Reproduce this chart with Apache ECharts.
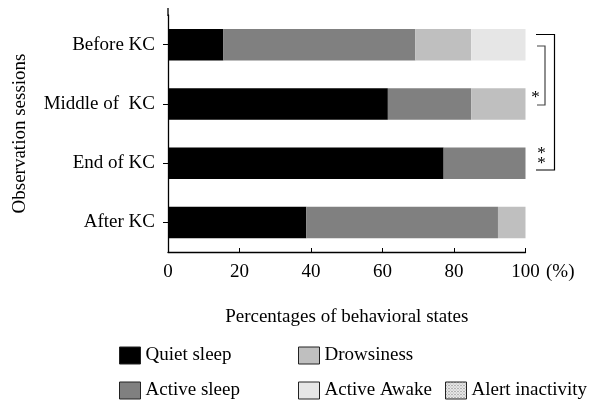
<!DOCTYPE html>
<html>
<head>
<meta charset="utf-8">
<script src="https://cdn.jsdelivr.net/npm/echarts@6/dist/echarts.min.js"></script>
<style>html,body{margin:0;padding:0;background:#fff}#c{width:600px;height:413px}</style>
</head>
<body>
<div id="c"></div>
<script>
const categories = ['Before KC', 'Middle of  KC', 'End of KC', 'After KC'];
const quietSleep = [15.5, 61.5, 77.1, 38.7];
const activeSleep = [53.7, 23.3, 22.9, 53.6];
const drowsiness = [15.6, 15.2, 0, 7.7];
const activeAwake = [15.2, 0, 0, 0];
const alertInactivity = [0, 0, 0, 0];
const xTicks = [0, 20, 40, 60, 80, 100];

const FONT = '"Liberation Serif", "DejaVu Serif", serif';
const FS = 19;

// dotted pattern for "Alert inactivity"
const pc = document.createElement('canvas');
pc.width = 3; pc.height = 3;
const pctx = pc.getContext('2d');
pctx.fillStyle = '#f0f0f0'; pctx.fillRect(0, 0, 3, 3);
pctx.fillStyle = '#777'; pctx.fillRect(0, 0, 1, 1); pctx.fillRect(1.5, 1.5, 1, 1);

const chart = echarts.init(document.getElementById('c'), null, {renderer: 'canvas'});

function mkSeries(name, data, color) {
  return {
    name, type: 'bar', stack: 'all', data, barWidth: 31.5,
    itemStyle: {color: color, borderWidth: 0},
    emphasis: {disabled: true}, silent: true
  };
}
function mkLegend(name, left, top) {
  return {
    data: [name], left, top, orient: 'horizontal', padding: 0,
    itemWidth: 21, itemHeight: 17, itemGap: 0,
    icon: 'rect', selectedMode: false,
    textStyle: {fontFamily: FONT, fontSize: FS, color: '#000'},
    itemStyle: {borderColor: '#222', borderWidth: 1}
  };
}

chart.setOption({
  animation: false,
  backgroundColor: '#fff',
  grid: {left: 168, right: 74.5, top: 15, bottom: 161, containLabel: false},
  xAxis: {
    type: 'value', min: 0, max: 100, interval: 20,
    axisLine: {show: true, lineStyle: {color: '#000', width: 1.3}},
    axisTick: {show: true, inside: true, length: 4, lineStyle: {color: '#000'}},
    splitLine: {show: false},
    axisLabel: {fontFamily: FONT, fontSize: FS, color: '#000', margin: 11,
      formatter: v => xTicks.includes(v) ? String(v) : ''},
    name: 'Percentages of behavioral states', nameLocation: 'middle', nameGap: 56,
    nameTextStyle: {fontFamily: FONT, fontSize: FS, color: '#000'}
  },
  yAxis: {
    type: 'category', data: categories, inverse: true,
    axisLine: {show: true, lineStyle: {color: '#000', width: 1.3}},
    axisTick: {show: true, length: 5, alignWithLabel: true, lineStyle: {color: '#000'}},
    axisLabel: {fontFamily: FONT, fontSize: FS, color: '#000', margin: 13},
    name: 'Observation sessions', nameLocation: 'middle', nameGap: 138, nameRotate: 90,
    nameTextStyle: {fontFamily: FONT, fontSize: FS, color: '#000'}
  },
  legend: [
    mkLegend('Quiet sleep', 119, 346),
    mkLegend('Drowsiness', 298, 346),
    mkLegend('Active sleep', 119, 381),
    mkLegend('Active Awake', 298, 381),
    mkLegend('Alert inactivity', 445, 381)
  ],
  series: [
    mkSeries('Quiet sleep', quietSleep, '#000000'),
    mkSeries('Active sleep', activeSleep, '#808080'),
    mkSeries('Drowsiness', drowsiness, '#bfbfbf'),
    mkSeries('Active Awake', activeAwake, '#e6e6e6'),
    mkSeries('Alert inactivity', alertInactivity, {image: pc, repeat: 'repeat'})
  ],
  graphic: [
    {type: 'line', shape: {x1: 168, y1: 8, x2: 168, y2: 16}, style: {stroke: '#000', lineWidth: 1.3}},
    {type: 'text', left: 546, top: 263, style: {text: '(%)', font: FS + 'px ' + FONT, fill: '#000'}},
    // outer bracket (Before vs End)
    {type: 'polyline', shape: {points: [[536, 34.5], [554.5, 34.5], [554.5, 170], [536, 170]]},
      style: {stroke: '#000', lineWidth: 1.2, fill: null}},
    // inner bracket (Before vs Middle)
    {type: 'polyline', shape: {points: [[537, 46], [545, 46], [545, 105], [537, 105]]},
      style: {stroke: '#444', lineWidth: 1.2, fill: null}},
    {type: 'text', x: 535.5, y: 98, style: {text: '*', font: '17px ' + FONT, fill: '#000', align: 'center', verticalAlign: 'middle'}},
    {type: 'text', x: 541.5, y: 154, style: {text: '*', font: '17px ' + FONT, fill: '#000', align: 'center', verticalAlign: 'middle'}},
    {type: 'text', x: 541.5, y: 164, style: {text: '*', font: '17px ' + FONT, fill: '#000', align: 'center', verticalAlign: 'middle'}}
  ]
});
</script>
</body>
</html>
